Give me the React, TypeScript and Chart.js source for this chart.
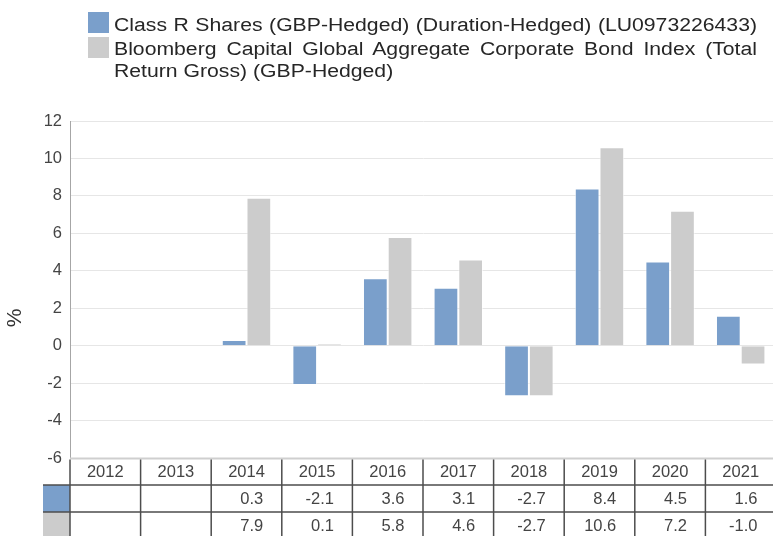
import React, { useEffect, useRef } from 'react';
import { Chart, registerables } from 'chart.js';

Chart.register(...registerables);

// ---- data ----
const categories = ['2012', '2013', '2014', '2015', '2016', '2017', '2018', '2019', '2020', '2021'];
const classRShares: (number | null)[] = [null, null, 0.3, -2.1, 3.6, 3.1, -2.7, 8.4, 4.5, 1.6];
const benchmarkIndex: (number | null)[] = [null, null, 7.9, 0.1, 5.8, 4.6, -2.7, 10.6, 7.2, -1.0];
const seriesNames = [
  'Class R Shares (GBP-Hedged) (Duration-Hedged) (LU0973226433)',
  'Bloomberg Capital Global Aggregate Corporate Bond Index (Total Return Gross) (GBP-Hedged)',
];
const yMin = -6;
const yMax = 12;
const yStep = 2;
const yTitle = '%';

// ---- styles ----
const BLUE = '#7a9fcb';
const GRAY = '#cccccc';
const FONT = '"Liberation Sans", Arial, Helvetica, sans-serif';
const TEXT = '#444444';

const fmt = (v: number | null) => (v === null || v === undefined ? '' : v.toFixed(1));

const tablePlugin = {
  id: 'dataTable',
  afterDraw(chart: any) {
    const { ctx, chartArea } = chart;
    const n = categories.length;
    const left = chartArea.left;
    const w = (chartArea.right - chartArea.left) / n;
    const top = chartArea.bottom;
    const r1 = top + 27;
    const r2 = r1 + 27;
    const bottom = chart.height + 4;
    ctx.save();
    // swatches
    ctx.fillStyle = BLUE;
    ctx.fillRect(43, r1, left - 43, r2 - r1);
    ctx.fillStyle = GRAY;
    ctx.fillRect(43, r2, left - 43, bottom - r2);
    // top light border
    ctx.strokeStyle = '#cfcfcf';
    ctx.lineWidth = 2;
    ctx.beginPath();
    ctx.moveTo(left, top + 0.5);
    ctx.lineTo(chart.width, top + 0.5);
    ctx.stroke();
    // horizontal dark lines
    ctx.strokeStyle = '#4d4d4d';
    ctx.lineWidth = 1.5;
    ctx.beginPath();
    ctx.moveTo(43, r1);
    ctx.lineTo(chart.width, r1);
    ctx.moveTo(43, r2);
    ctx.lineTo(chart.width, r2);
    ctx.stroke();
    // verticals
    ctx.beginPath();
    for (let i = 0; i <= n; i++) {
      const x = left + i * w;
      ctx.moveTo(x, top + 1.5);
      ctx.lineTo(x, bottom);
    }
    ctx.stroke();
    // texts
    ctx.fillStyle = TEXT;
    ctx.font = `16.5px ${FONT}`;
    ctx.textBaseline = 'middle';
    const xs = chart.scales.x;
    for (let i = 0; i < n; i++) {
      const cx = xs.getPixelForValue(i);
      const rx = left + (i + 1) * w - 18.5;
      ctx.textAlign = 'center';
      ctx.fillText(categories[i], cx, top + 14);
      ctx.textAlign = 'right';
      ctx.fillText(fmt(classRShares[i]), rx, r1 + 14);
      ctx.fillText(fmt(benchmarkIndex[i]), rx, r2 + 14);
    }
    // y title
    ctx.save();
    ctx.translate(15.5, 318);
    ctx.rotate(-Math.PI / 2);
    ctx.textAlign = 'center';
    ctx.fillStyle = '#333333';
    ctx.font = `21px ${FONT}`;
    ctx.fillText(yTitle, 0, 0);
    ctx.restore();
    ctx.restore();
  },
};

export default function App() {
  const ref = useRef<HTMLCanvasElement | null>(null);

  useEffect(() => {
    if (!ref.current) return;
    const chart = new Chart(ref.current, {
      type: 'bar',
      data: {
        labels: categories,
        datasets: [
          {
            label: seriesNames[0],
            data: classRShares,
            backgroundColor: BLUE,
            borderColor: 'rgba(255,255,255,0.55)',
            borderWidth: 1,
            categoryPercentage: 0.7,
            barPercentage: 1,
          },
          {
            label: seriesNames[1],
            data: benchmarkIndex,
            backgroundColor: GRAY,
            borderColor: 'rgba(255,255,255,0.55)',
            borderWidth: 1,
            categoryPercentage: 0.7,
            barPercentage: 1,
          },
        ],
      },
      options: {
        responsive: false,
        animation: false,
        maintainAspectRatio: false,
        layout: { padding: { top: 121, bottom: 78, left: 0, right: 0 } },
        plugins: { legend: { display: false }, tooltip: { enabled: false } },
        scales: {
          x: { display: false },
          y: {
            min: yMin,
            max: yMax,
            ticks: { stepSize: yStep, color: TEXT, font: { family: FONT, size: 16.5 }, padding: 8 },
            grid: { color: '#e6e6e6', drawTicks: false },
            border: { display: true, color: '#a6a6a6' },
            afterFit(scale: any) {
              scale.width = 70;
            },
          },
        },
      },
      plugins: [tablePlugin],
    });
    return () => chart.destroy();
  }, []);

  const textStyle: React.CSSProperties = {
    position: 'absolute',
    left: 114,
    width: 546,
    fontFamily: FONT,
    fontSize: 18,
    lineHeight: '22.5px',
    color: '#262626',
    textAlign: 'justify',
    transform: `scaleX(${643 / 546})`,
    transformOrigin: '0 0',
  };

  return (
    <div style={{ position: 'fixed', left: 0, top: 0, width: 773, height: 536, overflow: 'hidden', background: '#fff' }}>
      <canvas ref={ref} width={776} height={536} style={{ position: 'absolute', left: 0, top: 0, width: 776, height: 536 }} />
      <div style={{ position: 'absolute', left: 88, top: 12, width: 21, height: 21, background: BLUE }} />
      <div style={{ position: 'absolute', left: 88, top: 37, width: 21, height: 21, background: GRAY }} />
      <div style={{ ...textStyle, top: 13.5, textAlignLast: 'justify' } as React.CSSProperties}>{seriesNames[0]}</div>
      <div style={{ ...textStyle, top: 37.5 }}>{seriesNames[1]}</div>
    </div>
  );
}
